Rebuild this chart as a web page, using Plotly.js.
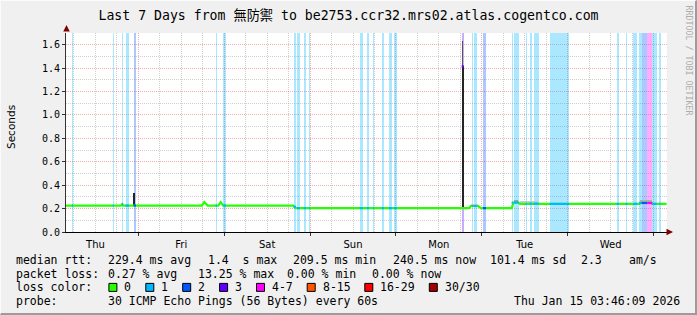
<!DOCTYPE html>
<html><head><meta charset="utf-8">
<script src="https://cdn.plot.ly/plotly-3.0.1.min.js"></script>
<style>
html,body{margin:0;padding:0;background:#f0f0f0;}
#wrap{position:relative;width:697px;height:315px;overflow:hidden;}
#chart{width:697px;height:315px;}
#frame{position:absolute;left:0;top:0;width:697px;height:315px;box-sizing:border-box;border-top:1px solid #fbfbfb;border-left:1px solid #fbfbfb;border-right:2px solid #9c9c9c;border-bottom:2px solid #9c9c9c;pointer-events:none;}
</style></head><body>
<div id="wrap"><div id="chart"></div><div id="frame"></div></div>
<script>
// ---------- data ----------
const rangeStart = '2026-01-08 03:46:09';
const rangeEnd   = '2026-01-15 03:46:09';
const yMax = 1.7;

const titleText = 'Last 7 Days from 無防禦 to be2753.ccr32.mrs02.atlas.cogentco.com';
const yTitle = 'Seconds';
const watermark = 'RRDTOOL / TOBI OETIKER';

// median RTT (seconds) change points
const medianTimes = ['2026-01-08 03:46','2026-01-08 19:08','2026-01-08 19:30','2026-01-08 19:50',
  '2026-01-09 17:47','2026-01-09 18:25','2026-01-09 19:22','2026-01-09 22:20','2026-01-09 23:00','2026-01-09 23:44',
  '2026-01-10 19:20','2026-01-10 19:54','2026-01-12 20:29','2026-01-12 20:53','2026-01-12 23:00','2026-01-12 23:45',
  '2026-01-13 08:21','2026-01-13 08:51','2026-01-13 10:10','2026-01-13 10:40','2026-01-14 20:10','2026-01-14 20:20',
  '2026-01-14 23:30','2026-01-14 23:40','2026-01-15 03:40'];
const medianValues = [0.226,0.226,0.238,0.226,
  0.226,0.257,0.226,0.226,0.256,0.226,
  0.226,0.204,0.204,0.222,0.222,0.204,
  0.204,0.252,0.252,0.240,0.240,0.248,
  0.248,0.240,0.240];

// packet-loss periods: start, end, loss class index, median during period
const bandStarts = ['2026-01-08 05:25','2026-01-08 16:49','2026-01-08 19:20','2026-01-08 20:27','2026-01-08 22:41',
  '2026-01-09 21:36','2026-01-09 23:44','2026-01-10 19:25','2026-01-10 20:20','2026-01-10 22:12','2026-01-10 23:41',
  '2026-01-11 13:51','2026-01-11 15:49','2026-01-11 17:34','2026-01-11 20:00','2026-01-11 21:58','2026-01-11 23:27',
  '2026-01-12 18:22','2026-01-12 21:15','2026-01-12 21:48','2026-01-13 00:19','2026-01-13 08:20','2026-01-13 08:59',
  '2026-01-13 12:15','2026-01-13 13:22','2026-01-13 14:29','2026-01-13 18:58','2026-01-14 13:41','2026-01-14 16:12',
  '2026-01-14 18:20','2026-01-14 19:55','2026-01-14 20:40','2026-01-14 22:14','2026-01-14 23:38','2026-01-15 01:36'];
const bandEnds = ['2026-01-08 05:45','2026-01-08 17:06','2026-01-08 19:42','2026-01-08 21:23','2026-01-08 23:20',
  '2026-01-09 21:58','2026-01-10 00:29','2026-01-10 20:03','2026-01-10 21:10','2026-01-10 22:51','2026-01-10 23:58',
  '2026-01-11 14:47','2026-01-11 16:27','2026-01-11 17:51','2026-01-11 20:39','2026-01-11 22:53','2026-01-12 00:17',
  '2026-01-12 19:00','2026-01-12 21:36','2026-01-12 22:38','2026-01-13 01:10','2026-01-13 08:47','2026-01-13 10:23',
  '2026-01-13 12:37','2026-01-13 14:01','2026-01-13 15:53','2026-01-14 00:26','2026-01-14 14:20','2026-01-14 16:39',
  '2026-01-14 19:27','2026-01-14 20:40','2026-01-14 22:14','2026-01-14 23:38','2026-01-15 00:52','2026-01-15 01:59'];
const bandLoss = [1,1,1,1,2, 1,1,1,1,1,1, 1,1,1,1,1,1, 3,1,1,2,1,1, 1,1,1,1,1,1, 1,1,2,4,1,1];
const bandMedian = [0.226,0.226,0.238,0.226,0.226, 0.226,0.226,0.215,0.204,0.204,0.204,
  0.204,0.204,0.204,0.204,0.204,0.204, 1.414,0.222,0.222,0.204,0.250,0.252,
  0.240,0.242,0.242,0.240,0.240,0.240, 0.240,0.248,0.248,0.248,0.240,0.240];

// smoke (ping spread): centre time, duration (min), low, high, density 0..1
const smokeTimes = ['2026-01-08 22:50','2026-01-09 18:25','2026-01-12 18:38','2026-01-12 18:42','2026-01-12 22:00',
  '2026-01-13 09:35','2026-01-13 13:10','2026-01-14 21:50'];
const smokeMinutes = [24,17,32,16,120,80,300,210];
const smokeLow  = [0.226,0.252,0.204,1.414,0.222,0.252,0.242,0.248];
const smokeHigh = [0.336,0.262,1.414,1.630,0.238,0.276,0.262,0.272];
const smokeDensity = [0.92,0.8,0.92,0.7,0.17,0.35,0.15,0.28];

const lossLabels = ['0','1','2','3','4-7','8-15','16-29','30/30'];
const lossColors = ['#26ff00','#00b8ff','#0059ff','#5e00ff','#ff00ff','#ff5500','#ff0000','#a10000'];

const rttLabel = 'median rtt:';
const rttStats = ['229.4 ms avg','1.4  s max','209.5 ms min','240.5 ms now','101.4 ms sd','2.3','am/s'];
const lossLabel = 'packet loss:';
const lossStats = ['0.27 % avg','13.25 % max','0.00 % min','0.00 % now'];
const lossColorLabel = 'loss color:';
const probeLabel = 'probe:';
const probeText = '30 ICMP Echo Pings (56 Bytes) every 60s';
const stampText = 'Thu Jan 15 03:46:09 2026';

// ---------- layout helpers ----------
const L = 66, T = 33, W = 601, H = 199, FW = 697, FH = 315;
const px = x => (x - L) / W;
const py = y => (T + H - y) / H;
const toMs = s => Date.parse(s.replace(' ', 'T') + ':00Z');
const nb = s => s.replace(/ /g, '\u00a0');
const hexToRgba = (h, a) => {
  const r = parseInt(h.slice(1,3),16), g = parseInt(h.slice(3,5),16), b = parseInt(h.slice(5,7),16);
  return `rgba(${r},${g},${b},${a})`;
};
const MONO = 'DejaVu Sans Mono, Noto Sans CJK TC, monospace';
const SANS = 'DejaVu Sans, sans-serif';

const traces = [];

// loss background bands
[...new Set(bandLoss)].forEach(cls => {
  const idx = bandLoss.map((c,i) => c === cls ? i : -1).filter(i => i >= 0);
  traces.push({
    type: 'bar',
    x: idx.map(i => (toMs(bandStarts[i]) + toMs(bandEnds[i])) / 2),
    y: idx.map(() => yMax),
    width: idx.map(i => toMs(bandEnds[i]) - toMs(bandStarts[i])),
    marker: {color: hexToRgba(lossColors[cls], 0.33), line: {width: 0}},
    hoverinfo: 'skip', showlegend: false
  });
});

// smoke
traces.push({
  type: 'bar',
  x: smokeTimes.map(toMs),
  base: smokeLow,
  y: smokeHigh.map((h,i) => h - smokeLow[i]),
  width: smokeMinutes.map(m => m * 60000),
  marker: {color: smokeDensity.map(d => { const v = Math.round(235 - d * 215); return `rgb(${v},${v},${v})`; }), line: {width: 0}},
  hoverinfo: 'skip', showlegend: false
});

// median line (no loss)
traces.push({
  type: 'scatter', mode: 'lines',
  x: medianTimes, y: medianValues,
  line: {color: lossColors[0], width: 2.2},
  hoverinfo: 'skip', showlegend: false
});

// median coloured by loss during loss periods
[...new Set(bandLoss)].forEach(cls => {
  const xs = [], ys = [];
  bandLoss.forEach((c,i) => {
    if (c !== cls) return;
    xs.push(toMs(bandStarts[i]), toMs(bandEnds[i]), null);
    ys.push(bandMedian[i], bandMedian[i], null);
  });
  traces.push({
    type: 'scatter', mode: 'lines', x: xs, y: ys,
    line: {color: lossColors[cls], width: 2.2},
    hoverinfo: 'skip', showlegend: false
  });
});

// ---------- annotations ----------
const ann = [];
const txt = (text, x, y, opts = {}) => ann.push(Object.assign({
  text: nb(text), xref: 'paper', yref: 'paper', x: px(x - 2), y: py(y),
  xanchor: 'left', yanchor: 'middle', showarrow: false,
  font: {family: MONO, size: 11.5, color: '#000'}
}, opts));

txt(rttLabel, 16, 260);
const rttX = [107.6, 208.4, 293.3, 393.3, 490, 580.5, 628.9];
rttStats.forEach((s,i) => txt(s, rttX[i], 260));
txt(lossLabel, 16, 273.7);
const lossX = [107.6, 197.8, 286.7, 372.4];
lossStats.forEach((s,i) => txt(s, lossX[i], 273.7));
txt(lossColorLabel, 16, 287.4);
txt(probeLabel, 16, 301);
txt(probeText, 107.6, 301);
ann.push({text: nb(stampText), xref: 'paper', yref: 'paper', x: px(682), y: py(301),
  xanchor: 'right', yanchor: 'middle', showarrow: false, font: {family: MONO, size: 11.5, color: '#000'}});

const shapes = [];
let sx = 108.9;
lossLabels.forEach((lab, i) => {
  shapes.push({type: 'rect', xref: 'paper', yref: 'paper', layer: 'above',
    x0: px(sx), x1: px(sx + 8), y0: py(291.4), y1: py(283.4),
    fillcolor: lossColors[i], line: {color: '#000', width: 1}});
  txt(lab, sx + 15.5, 287.4);
  sx += 36.9 + (lab.length - 1) * 6.9;
});

// y title
ann.push({text: yTitle, xref: 'paper', yref: 'paper', x: px(10.5), y: py(127.5), textangle: -90,
  xanchor: 'center', yanchor: 'middle', showarrow: false, font: {family: SANS, size: 10.5, color: '#000'}});
// watermark
ann.push({text: nb(watermark), xref: 'paper', yref: 'paper', x: px(688.5), y: py(60), textangle: 90,
  xanchor: 'center', yanchor: 'middle', showarrow: false, font: {family: MONO, size: 8.3, color: '#adadad'}});
// axis arrows
ann.push({text: '', xref: 'paper', yref: 'paper', x: px(66.5), y: py(25), ax: 0, ay: 7,
  showarrow: true, arrowhead: 2, arrowsize: 1.3, arrowwidth: 1, arrowcolor: '#7f0000'});
ann.push({text: '', xref: 'paper', yref: 'paper', x: px(673), y: py(232), ax: -7, ay: 0,
  showarrow: true, arrowhead: 2, arrowsize: 1.3, arrowwidth: 1, arrowcolor: '#7f0000'});

const MAJ = 'rgba(222,80,80,0.45)', MIN = 'rgba(143,143,143,0.42)', DASH = '1px,1px';

const layout = {
  width: FW, height: FH,
  margin: {l: L, r: FW - L - W, t: T, b: FH - T - H, pad: 0},
  paper_bgcolor: '#f0f0f0', plot_bgcolor: '#ffffff',
  barmode: 'overlay', bargap: 0,
  showlegend: false,
  title: {text: titleText, font: {family: MONO, size: 13.2, color: '#000'},
    x: 0.5, xref: 'container', xanchor: 'center', y: 1 - 15.5 / FH, yref: 'container', yanchor: 'middle'},
  xaxis: {
    type: 'date', range: [rangeStart, rangeEnd], fixedrange: true,
    tickmode: 'linear', tick0: '2026-01-09', dtick: 86400000,
    ticklabelmode: 'period', tickformat: '%a',
    tickfont: {family: SANS, size: 10, color: '#000'},
    ticks: 'outside', ticklen: 3, tickcolor: '#333',
    showgrid: true, gridcolor: MAJ, griddash: DASH, gridwidth: 1,
    minor: {tick0: '2026-01-09', dtick: 21600000, showgrid: true, gridcolor: MIN, griddash: DASH, gridwidth: 1},
    showline: true, linecolor: '#000', linewidth: 1, zeroline: false
  },
  yaxis: {
    range: [0, yMax], fixedrange: true,
    tickmode: 'linear', tick0: 0, dtick: 0.2, tickformat: '.1f',
    tickfont: {family: MONO, size: 10, color: '#000'},
    ticks: 'outside', ticklen: 3, tickcolor: '#333',
    showgrid: true, gridcolor: MAJ, griddash: DASH, gridwidth: 1,
    minor: {dtick: 0.1, showgrid: true, gridcolor: MIN, griddash: DASH, gridwidth: 1},
    showline: true, linecolor: '#333', linewidth: 1, zeroline: false
  },
  annotations: ann,
  shapes: shapes
};

Plotly.newPlot('chart', traces, layout, {staticPlot: true, displayModeBar: false});
</script>
</body></html>
